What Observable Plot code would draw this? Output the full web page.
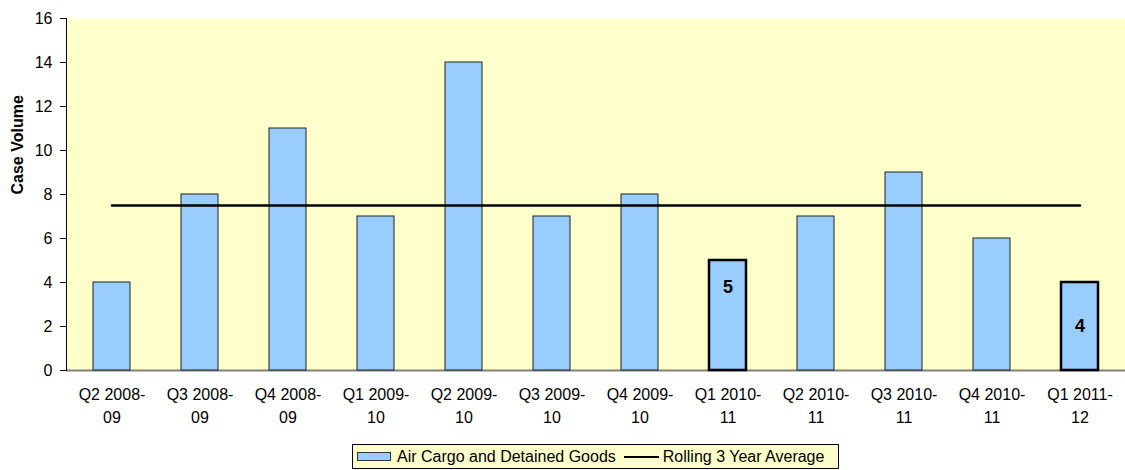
<!DOCTYPE html>
<html>
<head>
<meta charset="utf-8">
<script src="https://cdn.jsdelivr.net/npm/d3@7"></script>
<script src="https://cdn.jsdelivr.net/npm/@observablehq/plot@0.6"></script>
<style>
  body { margin: 0; background: #fff; font-family: "Liberation Sans", Arial, sans-serif; }
  #legend {
    margin-left: 352px; margin-top: 6px; width: 485px; height: 23px;
    border: 1px solid #000; background: #FFFFCC; box-sizing: content-box;
    display: flex; align-items: center; font-size: 16px; color: #000; white-space: nowrap;
  }
  .sw { display: inline-block; width: 32px; height: 7px; background: #99CCFF; border: 1px solid #333; margin-left: 4px; margin-right: 6px; }
  .ln { display: inline-block; width: 35px; height: 0; border-top: 2.5px solid #000; margin-left: 8px; margin-right: 4px; }
</style>
</head>
<body>
<div id="chart"></div>
<div id="legend"><span class="sw"></span>Air Cargo and Detained Goods<span class="ln"></span>Rolling 3 Year Average</div>
<script>
const categories = ["Q2 2008-09","Q3 2008-09","Q4 2008-09","Q1 2009-10","Q2 2009-10","Q3 2009-10","Q4 2009-10","Q1 2010-11","Q2 2010-11","Q3 2010-11","Q4 2010-11","Q1 2011-12"];
const caseVolume = [4, 8, 11, 7, 14, 7, 8, 5, 7, 9, 6, 4];
const rollingAverage = [7.5, 7.5, 7.5, 7.5, 7.5, 7.5, 7.5, 7.5, 7.5, 7.5, 7.5, 7.5];
const highlighted = ["Q1 2010-11", "Q1 2011-12"];
const yTicks = [0, 2, 4, 6, 8, 10, 12, 14, 16];

const data = categories.map((c, i) => ({cat: c, value: caseVolume[i], avg: rollingAverage[i]}));
const hl = data.filter(d => highlighted.includes(d.cat));

const chart = Plot.plot({
  width: 1125,
  height: 438,
  marginLeft: 66,
  marginRight: 0,
  marginTop: 18,
  marginBottom: 68,
  style: {fontFamily: "'Liberation Sans', Arial, sans-serif", fontSize: "16px", color: "#000", background: "#fff"},
  x: {domain: categories, paddingInner: 0.58, paddingOuter: 0.29, axis: null},
  y: {domain: [0, 16], axis: null},
  marks: [
    Plot.frame({fill: "#FFFFCC"}),
    Plot.ruleY([0], {stroke: "#808080", strokeWidth: 2}),
    Plot.barY(data, {x: "cat", y: "value", fill: "#99CCFF", stroke: "#222", strokeWidth: 1}),
    Plot.barY(hl, {x: "cat", y: "value", fill: "#99CCFF", stroke: "#000", strokeWidth: 2.5}),
    Plot.lineY(data, {x: "cat", y: "avg", stroke: "#000", strokeWidth: 2.5}),
    Plot.text(hl.slice(0, 1), {x: "cat", y: "value", text: d => String(d.value), dy: 27, fontWeight: "bold", fontSize: 18}),
    Plot.text(hl.slice(1), {x: "cat", y: d => d.value / 2, text: d => String(d.value), fontWeight: "bold", fontSize: 18}),
    Plot.frame({anchor: "left", stroke: "#000"}),
    Plot.axisY({ticks: yTicks, tickSize: 6, tickPadding: 8, stroke: "#000", fontSize: 16, label: null}),
    Plot.axisX({tickSize: 0, tickPadding: 14, fontSize: 16, lineHeight: 1.4, tickFormat: d => d.replace("-", "-\n"), label: null}),
    Plot.text(["Case Volume"], {frameAnchor: "left", rotate: -90, dx: -49, fontWeight: "bold", fontSize: 16})
  ]
});
document.getElementById("chart").appendChild(chart);
</script>
</body>
</html>
